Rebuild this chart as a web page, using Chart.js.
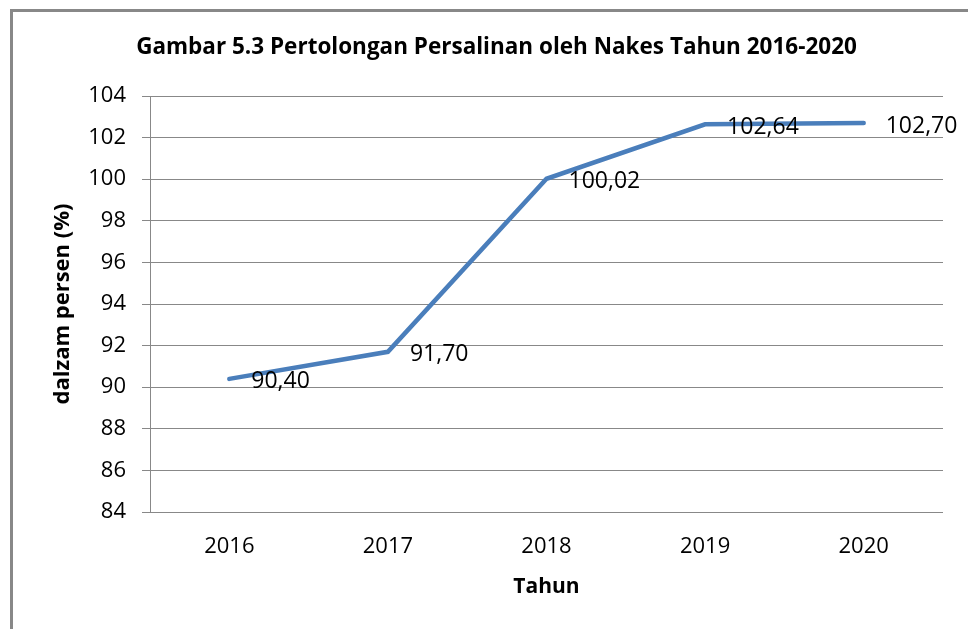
<!DOCTYPE html>
<html>
<head>
<meta charset="utf-8">
<script src="https://cdn.jsdelivr.net/npm/chart.js@4.4.0/dist/chart.umd.min.js"></script>
<style>
  html, body { margin: 0; padding: 0; background: #fff; overflow: hidden; }
  #wrap { position: relative; width: 968px; height: 629px; }
  #frame { position: absolute; left: 10px; top: 9px; width: 2000px; height: 2000px; border: 3px solid #888; }
  #myChart { position: absolute; left: 0; top: 0; }
</style>
</head>
<body>
<div id="wrap">
  <div id="frame"></div>
  <canvas id="myChart" width="968" height="629"></canvas>
</div>
<script>
const years = ['2016', '2017', '2018', '2019', '2020'];
const persen = [90.40, 91.70, 100.02, 102.64, 102.70];
const yMin = 84;
const yMax = 104;

const valueLabels = persen.map(v => v.toFixed(2).replace('.', ','));

const labelPlugin = {
    id: 'valueLabels',
    afterDatasetsDraw(chart) {
        const ctx = chart.ctx;
        const meta = chart.getDatasetMeta(0);
        ctx.save();
        ctx.font = '23px "Open Sans"';
        ctx.fillStyle = '#000';
        ctx.textBaseline = 'middle';
        meta.data.forEach((pt, i) => {
            ctx.fillText(valueLabels[i], pt.x + 22, pt.y + 3);
        });
        ctx.restore();
    }
};

const data = {
    labels: years,
    datasets: [{
        label: 'Persen',
        borderColor: '#4a7ebb',
        backgroundColor: '#4a7ebb',
        borderWidth: 4.5,
        borderCapStyle: 'round',
        pointRadius: 0,
        tension: 0,
        data: persen,
    }]
};

const config = {
    type: 'line',
    data: data,
    plugins: [labelPlugin],
    options: {
        responsive: false,
        animation: false,
        layout: { padding: { left: 50, right: 25, top: 0, bottom: 29 } },
        plugins: {
            legend: { display: false },
            tooltip: { enabled: false },
            title: {
                display: true,
                text: 'Gambar 5.3 Pertolongan Persalinan oleh Nakes Tahun 2016-2020',
                color: '#000',
                font: { family: '"Open Sans"', size: 22.5, weight: 'bold' },
                padding: { top: 34, bottom: 35 }
            }
        },
        scales: {
            x: {
                offset: true,
                grid: { display: false, drawTicks: false },
                border: { display: false },
                ticks: { color: '#000', font: { family: '"Open Sans"', size: 22 }, padding: 22 },
                title: {
                    display: true,
                    text: 'Tahun',
                    color: '#000',
                    font: { family: '"Open Sans"', size: 21, weight: 'bold' },
                    padding: { top: 4, bottom: 0 }
                },
                afterFit(scale) { scale.height = 88; }
            },
            y: {
                min: yMin,
                max: yMax,
                ticks: { stepSize: 2, color: '#000', font: { family: '"Open Sans"', size: 22 }, padding: 16 },
                grid: { color: '#888', lineWidth: 1, tickLength: 8 },
                border: { display: true, color: '#888' },
                title: {
                    display: true,
                    text: 'dalzam persen (%)',
                    color: '#000',
                    font: { family: '"Open Sans"', size: 22, weight: 'bold' },
                    padding: { top: 0, bottom: 0 }
                },
                afterFit(scale) { scale.width = 100; }
            }
        }
    }
};

const myChart = new Chart(
    document.getElementById('myChart'),
    config
);
</script>
</body>
</html>
